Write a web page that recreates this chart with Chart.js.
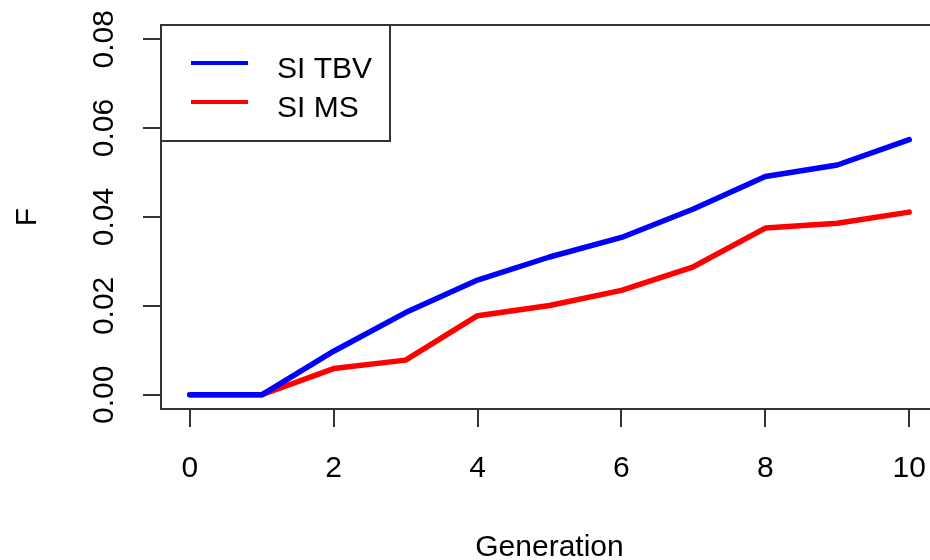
<!DOCTYPE html>
<html>
<head>
<meta charset="utf-8">
<title>Inbreeding by generation</title>
<script src="https://cdn.jsdelivr.net/npm/chart.js@4/dist/chart.umd.min.js"></script>
<style>
    html, body { margin: 0; padding: 0; background: #fff; overflow: hidden; }
    #wrap { width: 940px; height: 560px; }
</style>
</head>
<body>
<div id="wrap"><canvas id="inbreedingChart"></canvas></div>
<script>
// Mean inbreeding coefficient (F) per generation for the two selection indexes
const generations = [0, 1, 2, 3, 4, 5, 6, 7, 8, 9, 10];
const siTbv = [0, 0, 0.0098, 0.0185, 0.0258, 0.0310, 0.0354, 0.0418, 0.0491, 0.0517, 0.0574];
const siMs  = [0, 0, 0.0059, 0.0078, 0.0178, 0.0201, 0.0235, 0.0288, 0.0375, 0.0386, 0.0411];

const xTicks = [0, 2, 4, 6, 8, 10];
const yTicks = [0, 0.02, 0.04, 0.06, 0.08];
const yTickLabels = ['0.00', '0.02', '0.04', '0.06', '0.08'];

const FONT = '"Liberation Sans", Arial, sans-serif';
const INK = '#000';
const FRAME = '#333';

/**
 * R-style box around the plot region
 */
const boxPlugin = {
    id: 'plotBox',
    beforeDatasetsDraw(chart) {
        const { ctx, chartArea: a } = chart;
        ctx.save();
        ctx.strokeStyle = FRAME;
        ctx.lineWidth = 2;
        ctx.strokeRect(a.left, a.top, a.right - a.left, a.bottom - a.top);
        ctx.restore();
    }
};

/**
 * Boxed legend in the top-left corner, built from the datasets
 */
const legendBoxPlugin = {
    id: 'legendBox',
    afterDraw(chart) {
        const { ctx, chartArea: a } = chart;
        const x0 = a.left, y0 = a.top, w = 229, h = 116;
        ctx.save();
        ctx.fillStyle = '#fff';
        ctx.fillRect(x0, y0, w, h);
        ctx.strokeStyle = FRAME;
        ctx.lineWidth = 2;
        ctx.strokeRect(x0, y0, w, h);

        ctx.font = '30px ' + FONT;
        ctx.textBaseline = 'middle';
        ctx.textAlign = 'left';
        chart.data.datasets.forEach((ds, i) => {
            const ly = y0 + 38 + i * 39;
            ctx.strokeStyle = ds.borderColor;
            ctx.lineWidth = 4;
            ctx.beginPath();
            ctx.moveTo(x0 + 30, ly);
            ctx.lineTo(x0 + 87, ly);
            ctx.stroke();
            ctx.fillStyle = INK;
            ctx.fillText(ds.label, x0 + 116, ly + 7);
        });
        ctx.restore();
    }
};

function toPoints(values) {
    return values.map((v, i) => ({ x: generations[i], y: v }));
}

const ctx = document.getElementById('inbreedingChart').getContext('2d');

new Chart(ctx, {
    type: 'line',
    data: {
        datasets: [
            {
                label: 'SI TBV',
                data: toPoints(siTbv),
                borderColor: '#0000ff',
                borderWidth: 5.5,
                pointRadius: 0,
                tension: 0,
                borderJoinStyle: 'round',
                borderCapStyle: 'round',
            },
            {
                label: 'SI MS',
                data: toPoints(siMs),
                borderColor: '#ff0000',
                borderWidth: 5.5,
                pointRadius: 0,
                tension: 0,
                borderJoinStyle: 'round',
                borderCapStyle: 'round',
            },
        ],
    },
    options: {
        responsive: true,
        maintainAspectRatio: false,
        animation: false,
        layout: { padding: { left: 0, top: 25, right: 2, bottom: 0 } },
        plugins: {
            legend: { display: false },
            tooltip: { enabled: false },
        },
        scales: {
            x: {
                type: 'linear',
                min: -0.4,
                max: 10.4,
                afterBuildTicks: scale => { scale.ticks = xTicks.map(v => ({ value: v })); },
                afterFit: scale => {
                    scale.height = 151;
                    // labels may spill past the edges; keep the plot width fixed
                    scale.paddingLeft = 0;
                    scale.paddingRight = 0;
                },
                border: { display: false },
                grid: {
                    drawOnChartArea: false,
                    drawTicks: true,
                    tickLength: 18,
                    color: FRAME,
                    lineWidth: 2,
                },
                ticks: {
                    padding: 24,
                    color: INK,
                    font: { family: FONT, size: 30, lineHeight: 1.2 },
                    maxRotation: 0,
                },
                title: {
                    display: true,
                    text: 'Generation',
                    color: INK,
                    font: { family: FONT, size: 30, lineHeight: 0.8 },
                    padding: { top: 0, bottom: 0 },
                },
            },
            y: {
                type: 'linear',
                min: -0.0032,
                max: 0.0832,
                afterBuildTicks: scale => { scale.ticks = yTicks.map(v => ({ value: v })); },
                afterFit: scale => {
                    scale.width = 161;
                    scale.paddingTop = 0;
                    scale.paddingBottom = 0;
                },
                border: { display: false },
                grid: {
                    drawOnChartArea: false,
                    drawTicks: true,
                    tickLength: 18,
                    color: FRAME,
                    lineWidth: 2,
                },
                ticks: {
                    padding: 9,
                    color: INK,
                    crossAlign: 'center',
                    minRotation: 90,
                    maxRotation: 90,
                    font: { family: FONT, size: 30, lineHeight: 1.2 },
                    callback: (value, index) => yTickLabels[index],
                },
                title: {
                    display: true,
                    text: 'F',
                    color: INK,
                    font: { family: FONT, size: 30, lineHeight: 1 },
                    padding: { top: 13, bottom: 0 },
                },
            },
        },
    },
    plugins: [boxPlugin, legendBoxPlugin],
});
</script>
</body>
</html>
